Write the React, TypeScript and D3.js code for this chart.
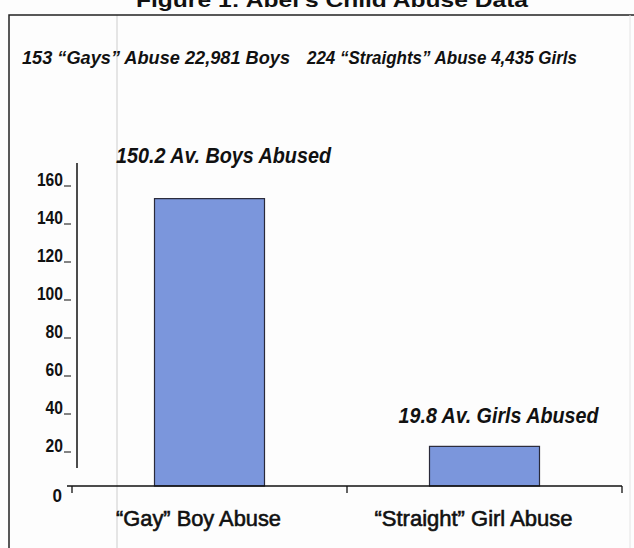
import React, { useRef, useEffect } from 'react';
import * as d3 from 'd3';

const categories = ['\u201CGay\u201D Boy Abuse', '\u201CStraight\u201D Girl Abuse'];
const averages = [150.2, 19.8];
const barLabels = ['150.2 Av. Boys Abused', '19.8 Av. Girls Abused'];
const yTicks = [20, 40, 60, 80, 100, 120, 140, 160];
const headerLines = ['153 \u201CGays\u201D Abuse 22,981 Boys', '224 \u201CStraights\u201D Abuse 4,435 Girls'];
const title = 'Figure 1:  Abel\u2019s Child Abuse Data';

const App: React.FC = () => {
  const svgRef = useRef<SVGSVGElement | null>(null);

  useEffect(() => {
    if (!svgRef.current) return;
    const w = 634;
    const h = 548;
    const svg = d3.select(svgRef.current).attr('width', w).attr('height', h);
    svg.selectAll('*').remove();

    const font = "'Liberation Sans', Arial, sans-serif";

    svg.append('rect').attr('width', w).attr('height', h).attr('fill', '#fdfdfd');

    // scan artifact / fold line
    svg.append('line')
      .attr('x1', 117).attr('x2', 117).attr('y1', 15).attr('y2', h)
      .attr('stroke', '#dcdcdc').attr('stroke-width', 1.5);

    // frame
    svg.append('path')
      .attr('d', `M9,${h} L9,15 L634,15`)
      .attr('fill', 'none').attr('stroke', '#222').attr('stroke-width', 1.5);
    svg.append('line')
      .attr('x1', 630).attr('x2', 630).attr('y1', 15).attr('y2', h)
      .attr('stroke', '#e4e4e4').attr('stroke-width', 1);

    // title (cut off at top, as in the scan)
    svg.append('text')
      .attr('x', 136).attr('y', 7)
      .attr('textLength', 392).attr('lengthAdjust', 'spacingAndGlyphs')
      .style('font-family', font).style('font-weight', 'bold').style('font-size', '21px')
      .attr('fill', '#111')
      .text(title);

    // header
    const headerX = [22, 307];
    const headerW = [268, 270];
    headerLines.forEach((t, i) => {
      svg.append('text')
        .attr('x', headerX[i]).attr('y', 64)
        .attr('textLength', headerW[i]).attr('lengthAdjust', 'spacingAndGlyphs')
        .style('font-family', font).style('font-weight', 'bold').style('font-style', 'italic')
        .style('font-size', '18px').attr('fill', '#111')
        .text(t);
    });

    const x = d3.scaleBand<string>().domain(categories).range([72, 622]);
    const y = d3.scaleLinear().domain([0, 160]).range([484, 180]);
    const barW = x.bandwidth() * 0.4;

    // bars
    svg.append('g')
      .selectAll('rect')
      .data(averages)
      .join('rect')
      .attr('x', (_, i) => (x(categories[i]) as number) + x.bandwidth() / 2 - barW / 2)
      .attr('y', (d) => y(d))
      .attr('width', barW)
      .attr('height', (d) => 486 - y(d))
      .attr('fill', '#7b96dc')
      .attr('stroke', '#2a2a3a')
      .attr('stroke-width', 1.2);

    // bar value labels
    const labelDx = [14, 14];
    const labelDy = [36, 23];
    const labelW = [215, 200];
    barLabels.forEach((t, i) => {
      const cx = (x(categories[i]) as number) + x.bandwidth() / 2 + labelDx[i];
      svg.append('text')
        .attr('x', cx).attr('y', y(averages[i]) - labelDy[i])
        .attr('text-anchor', 'middle')
        .attr('textLength', labelW[i]).attr('lengthAdjust', 'spacingAndGlyphs')
        .style('font-family', font).style('font-weight', 'bold').style('font-style', 'italic')
        .style('font-size', '22px').attr('fill', '#111')
        .text(t);
    });

    // y axis
    svg.append('line')
      .attr('x1', 77).attr('x2', 77).attr('y1', 163).attr('y2', 468)
      .attr('stroke', '#111').attr('stroke-width', 1.5);
    const yg = svg.append('g');
    yTicks.forEach((v) => {
      const s = String(v);
      yg.append('text')
        .attr('x', 63).attr('y', y(v) + 6)
        .attr('text-anchor', 'end')
        .attr('textLength', s.length * 8.7).attr('lengthAdjust', 'spacingAndGlyphs')
        .style('font-family', font).style('font-weight', 'bold').style('font-size', '18px')
        .attr('fill', '#111')
        .text(s);
      yg.append('line')
        .attr('x1', 64).attr('x2', 71).attr('y1', y(v) + 6).attr('y2', y(v) + 6)
        .attr('stroke', '#333').attr('stroke-width', 1.2);
    });
    yg.append('text')
      .attr('x', 62).attr('y', 502)
      .attr('text-anchor', 'end')
      .attr('textLength', 9.5).attr('lengthAdjust', 'spacingAndGlyphs')
      .style('font-family', font).style('font-weight', 'bold').style('font-size', '18px')
      .attr('fill', '#111')
      .text('0');

    // x axis
    svg.append('line')
      .attr('x1', 67).attr('x2', 622).attr('y1', 486).attr('y2', 486)
      .attr('stroke', '#111').attr('stroke-width', 1.5);
    const xTicks = [72, ...categories.map((c) => (x(c) as number) + x.bandwidth())];
    xTicks.forEach((tx) => {
      svg.append('line')
        .attr('x1', tx).attr('x2', tx).attr('y1', 486).attr('y2', 493)
        .attr('stroke', '#111').attr('stroke-width', 1.3);
    });

    // category labels
    const catW = [165, 198];
    categories.forEach((c, i) => {
      svg.append('text')
        .attr('x', (x(c) as number) + x.bandwidth() / 2 - 11)
        .attr('y', 526)
        .attr('text-anchor', 'middle')
        .attr('textLength', catW[i]).attr('lengthAdjust', 'spacingAndGlyphs')
        .style('font-family', font).style('font-size', '22px')
        .attr('fill', '#111').attr('stroke', '#111').attr('stroke-width', 0.6)
        .text(c);
    });
  }, []);

  return (
    <div style={{ position: 'absolute', left: 0, top: 0 }}>
      <svg ref={svgRef} style={{ display: 'block' }}></svg>
    </div>
  );
};

export default App;
